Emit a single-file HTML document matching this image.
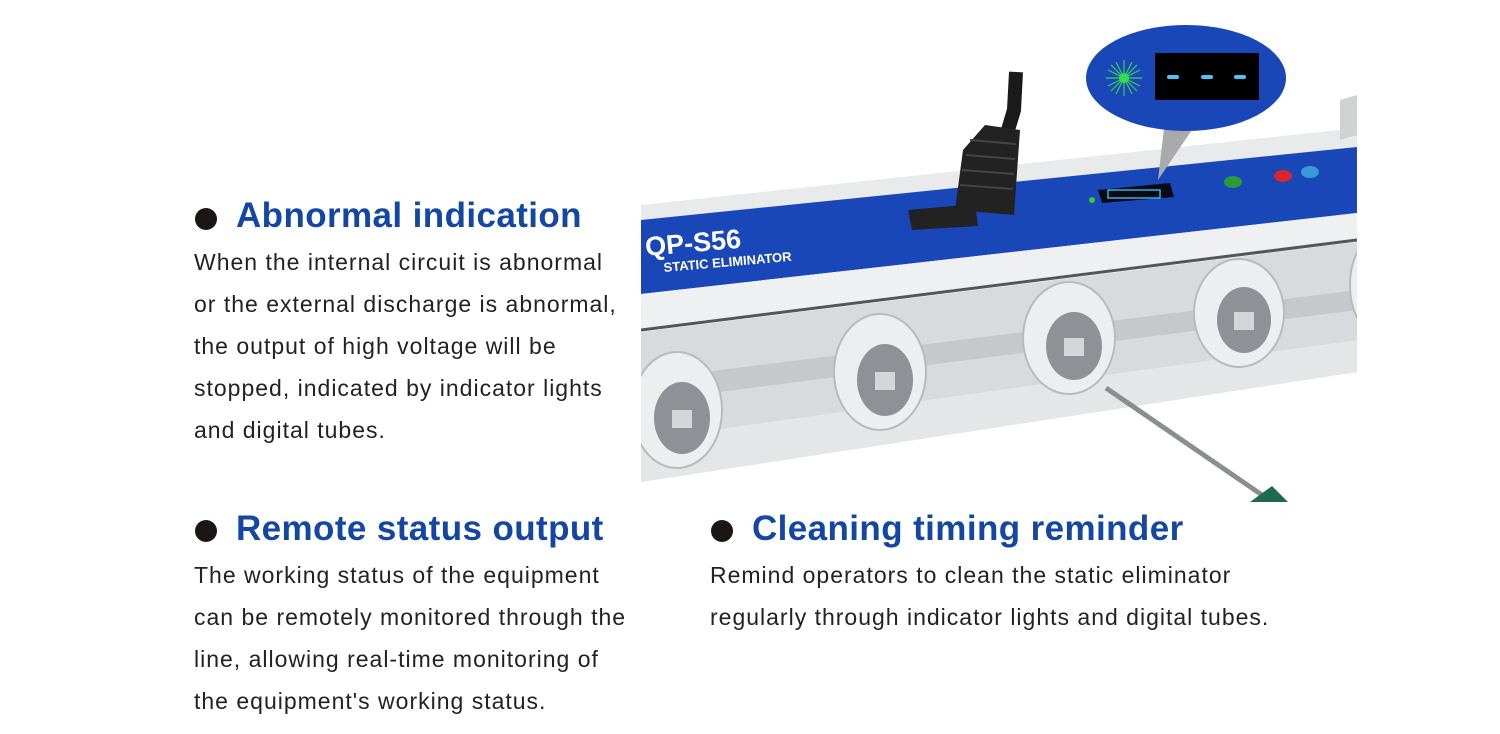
<!DOCTYPE html>
<html><head><meta charset="utf-8"><style>
html,body{margin:0;padding:0;background:#fff;width:1500px;height:734px;overflow:hidden;position:relative;font-family:"Liberation Sans",sans-serif}
.h{position:absolute;font-weight:bold;font-size:35px;color:#1447a3;line-height:40px;white-space:nowrap;letter-spacing:0.4px}
.d{position:absolute;width:22px;height:22px;border-radius:50%;background:#1b1515}
.p{position:absolute;font-size:23px;line-height:42px;color:#222;white-space:nowrap;letter-spacing:1px}
</style></head><body>
<svg style="position:absolute;left:0;top:0" width="1500" height="734">
<defs><clipPath id="c"><rect x="641" y="0" width="716" height="510"/></clipPath></defs>
<g clip-path="url(#c)">
<polygon points="641,205 1357,128 1357,147 641,220" fill="#e8eaec"/>
<polygon points="641,220 1357,147 1357,213 641,294" fill="#1a47b8"/>
<polygon points="641,294 1357,213 1357,240 641,330" fill="#eef0f2"/>
<line x1="641" y1="330" x2="1357" y2="240" stroke="#555" stroke-width="3"/>
<polygon points="641,332 1357,242 1357,372 641,482" fill="#d8dadd"/>
<polygon points="641,380 1357,290 1357,310 641,402" fill="#c6c9cc"/>
<polygon points="641,440 1357,340 1357,372 641,482" fill="#e4e6e8"/>
<polygon points="1340,100 1357,95 1357,135 1340,140" fill="#d0d2d4"/>
<g fill="#eceeef" stroke="#b8bbbe" stroke-width="2">
<ellipse cx="677" cy="410" rx="45" ry="58"/>
<ellipse cx="880" cy="372" rx="46" ry="58"/>
<ellipse cx="1069" cy="338" rx="46" ry="56"/>
<ellipse cx="1239" cy="313" rx="45" ry="54"/>
<ellipse cx="1380" cy="285" rx="30" ry="50"/>
</g>
<g fill="#8e9296">
<ellipse cx="682" cy="418" rx="28" ry="36"/>
<ellipse cx="885" cy="380" rx="28" ry="36"/>
<ellipse cx="1074" cy="346" rx="28" ry="34"/>
<ellipse cx="1244" cy="320" rx="27" ry="33"/>
</g>
<g fill="#d4d6d8">
<rect x="672" y="410" width="20" height="18"/>
<rect x="875" y="372" width="20" height="18"/>
<rect x="1064" y="338" width="20" height="18"/>
<rect x="1234" y="312" width="20" height="18"/>
</g>
<polygon points="908,210 975,204 978,226 912,230" fill="#222"/>
<path d="M1016,72 L1014,110 L1005,140" stroke="#1a1a1a" stroke-width="14" fill="none"/>
<polygon points="985,125 1020,130 1014,215 955,210 963,150" fill="#222"/>
<g stroke="#444" stroke-width="2"><line x1="970" y1="140" x2="1016" y2="144"/><line x1="966" y1="155" x2="1015" y2="159"/><line x1="962" y1="170" x2="1014" y2="174"/><line x1="960" y1="185" x2="1013" y2="189"/></g>
<polygon points="1098,190 1170,183 1174,197 1102,203" fill="#0a0a14"/>
<rect x="1108" y="190" width="52" height="8" fill="none" stroke="#35b0e0" stroke-width="1.5"/>
<circle cx="1092" cy="200" r="3" fill="#3c3"/>
<ellipse cx="1233" cy="182" rx="9" ry="6" fill="#2a9a3a"/>
<ellipse cx="1283" cy="176" rx="9" ry="6" fill="#d62828"/>
<ellipse cx="1310" cy="172" rx="9" ry="6" fill="#3a9ad8"/>
<polygon points="1165,120 1200,118 1158,180" fill="#a8aaac"/>
<ellipse cx="1186" cy="78" rx="100" ry="53" fill="#1a47b8"/>
<rect x="1155" y="53" width="104" height="47" fill="#000"/>
<g fill="#4ac4f0"><rect x="1167" y="75" width="12" height="4" rx="2"/><rect x="1201" y="75" width="12" height="4" rx="2"/><rect x="1234" y="75" width="12" height="4" rx="2"/></g>
<g stroke="#3dcc55" stroke-width="1.2">
<line x1="1106" y1="78" x2="1142" y2="78"/><line x1="1124" y1="60" x2="1124" y2="96"/>
<line x1="1111" y1="65" x2="1137" y2="91"/><line x1="1137" y1="65" x2="1111" y2="91"/>
<line x1="1108" y1="70" x2="1140" y2="86"/><line x1="1140" y1="70" x2="1108" y2="86"/>
<line x1="1116" y1="62" x2="1132" y2="94"/><line x1="1132" y1="62" x2="1116" y2="94"/>
</g>
<circle cx="1124" cy="78" r="5" fill="#2ee04a"/>
<line x1="1106" y1="388" x2="1262" y2="495" stroke="#8a8e92" stroke-width="5"/>
<polygon points="1250,502 1272,486 1288,502" fill="#1e6b50"/>
<text x="646" y="256" fill="#fff" font-family="Liberation Sans" font-weight="bold" font-size="27" transform="rotate(-5 646 256)">QP-S56</text>
<text x="664" y="272" fill="#fff" font-family="Liberation Sans" font-weight="bold" font-size="13" transform="rotate(-5 664 272)">STATIC ELIMINATOR</text>
</g>
</svg>

<div class="d" style="left:195px;top:208px"></div>
<div class="h" style="left:236px;top:196px">Abnormal indication</div>
<div class="p" style="left:194px;top:241px">When the internal circuit is abnormal<br>or the external discharge is abnormal,<br>the output of high voltage will be<br>stopped, indicated by indicator lights<br>and digital tubes.</div>

<div class="d" style="left:195px;top:520px"></div>
<div class="h" style="left:236px;top:509px">Remote status output</div>
<div class="p" style="left:194px;top:554px">The working status of the equipment<br>can be remotely monitored through the<br>line, allowing real-time monitoring of<br>the equipment's working status.</div>

<div class="d" style="left:711px;top:520px"></div>
<div class="h" style="left:752px;top:509px">Cleaning timing reminder</div>
<div class="p" style="left:710px;top:554px">Remind operators to clean the static eliminator<br>regularly through indicator lights and digital tubes.</div>
</body></html>
